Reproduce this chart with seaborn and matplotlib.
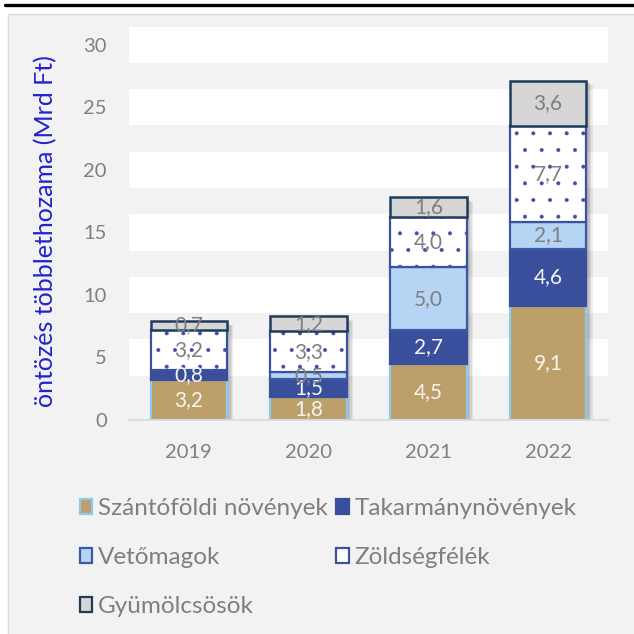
import matplotlib
matplotlib.use("Agg")
import numpy as np
import pandas as pd
import matplotlib.pyplot as plt
import matplotlib.patheffects as pe
from matplotlib.patches import Rectangle, Patch
from matplotlib.lines import Line2D
import seaborn as sns

# Irrigation surplus by crop group (Mrd Ft)
years = ["2019", "2020", "2021", "2022"]
szanto = [3.2, 1.8, 4.5, 9.1]
takarmany = [0.8, 1.5, 2.7, 4.6]
vetomag = [0.0, 0.5, 5.0, 2.1]
zoldseg = [3.2, 3.3, 4.0, 7.7]
gyumolcs = [0.7, 1.2, 1.6, 3.6]
series_names = ["Szántóföldi növények", "Takarmánynövények", "Vetőmagok",
                "Zöldségfélék", "Gyümölcsösök"]
y_ticks = [0, 5, 10, 15, 20, 25, 30]
y_label = "öntözés többlethozama (Mrd Ft)"

sns.set_theme(style="white")
plt.rcParams["font.family"] = ["Lato", "DejaVu Sans"]
plt.rcParams["hatch.linewidth"] = 0.4

W = H = 634
fig = plt.figure(figsize=(6.34, 6.34), dpi=100, facecolor="white")


def fx(px):
    return px / W


def fy(py):
    return 1 - py / H


# grey panel and the black rule above it
fig.patches.append(Rectangle((fx(8), -0.01), 1.0, fy(14) + 0.01,
                             transform=fig.transFigure, facecolor="#f2f2f2",
                             edgecolor="#d9d9d9", linewidth=1.0, zorder=-5))
fig.add_artist(Line2D([fx(5), 1.0], [fy(5), fy(5)], transform=fig.transFigure,
                      color="black", linewidth=2.4))

ax = fig.add_axes([fx(129), fy(420), fx(608) - fx(129), fy(26) - fy(420)])
ax.set_facecolor("#f2f2f2")
for t in y_ticks[1:]:
    ax.axhspan(t - 1.45, t + 1.45, color="white", lw=0, zorder=0)

df = pd.DataFrame({
    "year": years,
    series_names[0]: szanto,
    series_names[1]: takarmany,
    series_names[2]: vetomag,
    series_names[3]: zoldseg,
    series_names[4]: gyumolcs,
})
df["total"] = df[series_names].sum(axis=1)

styles = {
    series_names[0]: dict(face="#bd9f69", edge="#8ccbec", lw=1.6, hatch=None, txt="#f4f4f4"),
    series_names[1]: dict(face="#3a4f9c", edge="#3a4f9c", lw=1.6, hatch=None, txt="#f4f4f4"),
    series_names[2]: dict(face="#b6d5f5", edge="#3d58a6", lw=1.6, hatch=None, txt="#7f7f7f"),
    series_names[3]: dict(face="white", edge="#3a52a0", lw=1.6, hatch=".", txt="#7f7f7f"),
    series_names[4]: dict(face="#d6d6d6", edge="#1f3c5c", lw=1.8, hatch=None, txt="#7f7f7f"),
}

BAR_W = 0.64

# soft drop shadow under each full stack
sns.barplot(data=df, x="year", y="total", color="#f2f2f2", width=BAR_W,
            errorbar=None, saturation=1, linewidth=0, zorder=1, ax=ax)
shadow = [pe.SimplePatchShadow(offset=(d, -d * 0.7), shadow_rgbFace="black", alpha=0.07)
          for d in (1.5, 2.5, 3.5, 4.5)] + [pe.Normal()]
for bar in ax.containers[-1]:
    bar.set_path_effects(shadow)

bottom = np.zeros(len(years))
for name in series_names:
    st = styles[name]
    vals = df[name].to_numpy()
    kw = dict(hatch=st["hatch"]) if st["hatch"] else {}
    sns.barplot(data=df, x="year", y=name, color=st["face"], width=BAR_W,
                errorbar=None, saturation=1, bottom=bottom.copy(),
                edgecolor=st["edge"], linewidth=st["lw"], zorder=2, ax=ax, **kw)
    for i, v in enumerate(vals):
        if v > 0:
            ax.text(i, bottom[i] + v / 2, f"{v:.1f}".replace(".", ","),
                    ha="center", va="center", fontsize=15, color=st["txt"], zorder=5)
    bottom += vals

ax.set_xlim(-0.5, 3.5)
ax.set_ylim(0, 31.5)
ax.set_yticks(y_ticks)
ax.set_xlabel("")
ax.set_ylabel("")
ax.tick_params(axis="y", length=0, pad=16, labelsize=14.5, labelcolor="#808080")
ax.tick_params(axis="x", length=0, pad=17, labelsize=14.5, labelcolor="#808080")
for s in ("left", "right", "top"):
    ax.spines[s].set_visible(False)
ax.spines["bottom"].set_color("#d9d9d9")
ax.spines["bottom"].set_linewidth(1.2)

ax.text(-0.175, 0.48, y_label, transform=ax.transAxes, rotation=90,
        ha="center", va="center", color="#2222cc", fontsize=18)

# legend laid out row by row: two columns
handles = {}
for name in series_names:
    st = styles[name]
    handles[name] = Patch(facecolor=st["face"], edgecolor=st["edge"], linewidth=1.6)
order = [series_names[0], series_names[2], series_names[4], series_names[1], series_names[3]]
fig.legend([handles[n] for n in order], order, ncol=2, loc="upper left",
           bbox_to_anchor=(fx(58), fy(476)), frameon=False, fontsize=17.5,
           labelcolor="#7f7f7f", handlelength=0.5, handleheight=0.55,
           handletextpad=0.25, columnspacing=0.35, labelspacing=1.15)

fig.savefig("out.png", dpi=100, facecolor="white")
